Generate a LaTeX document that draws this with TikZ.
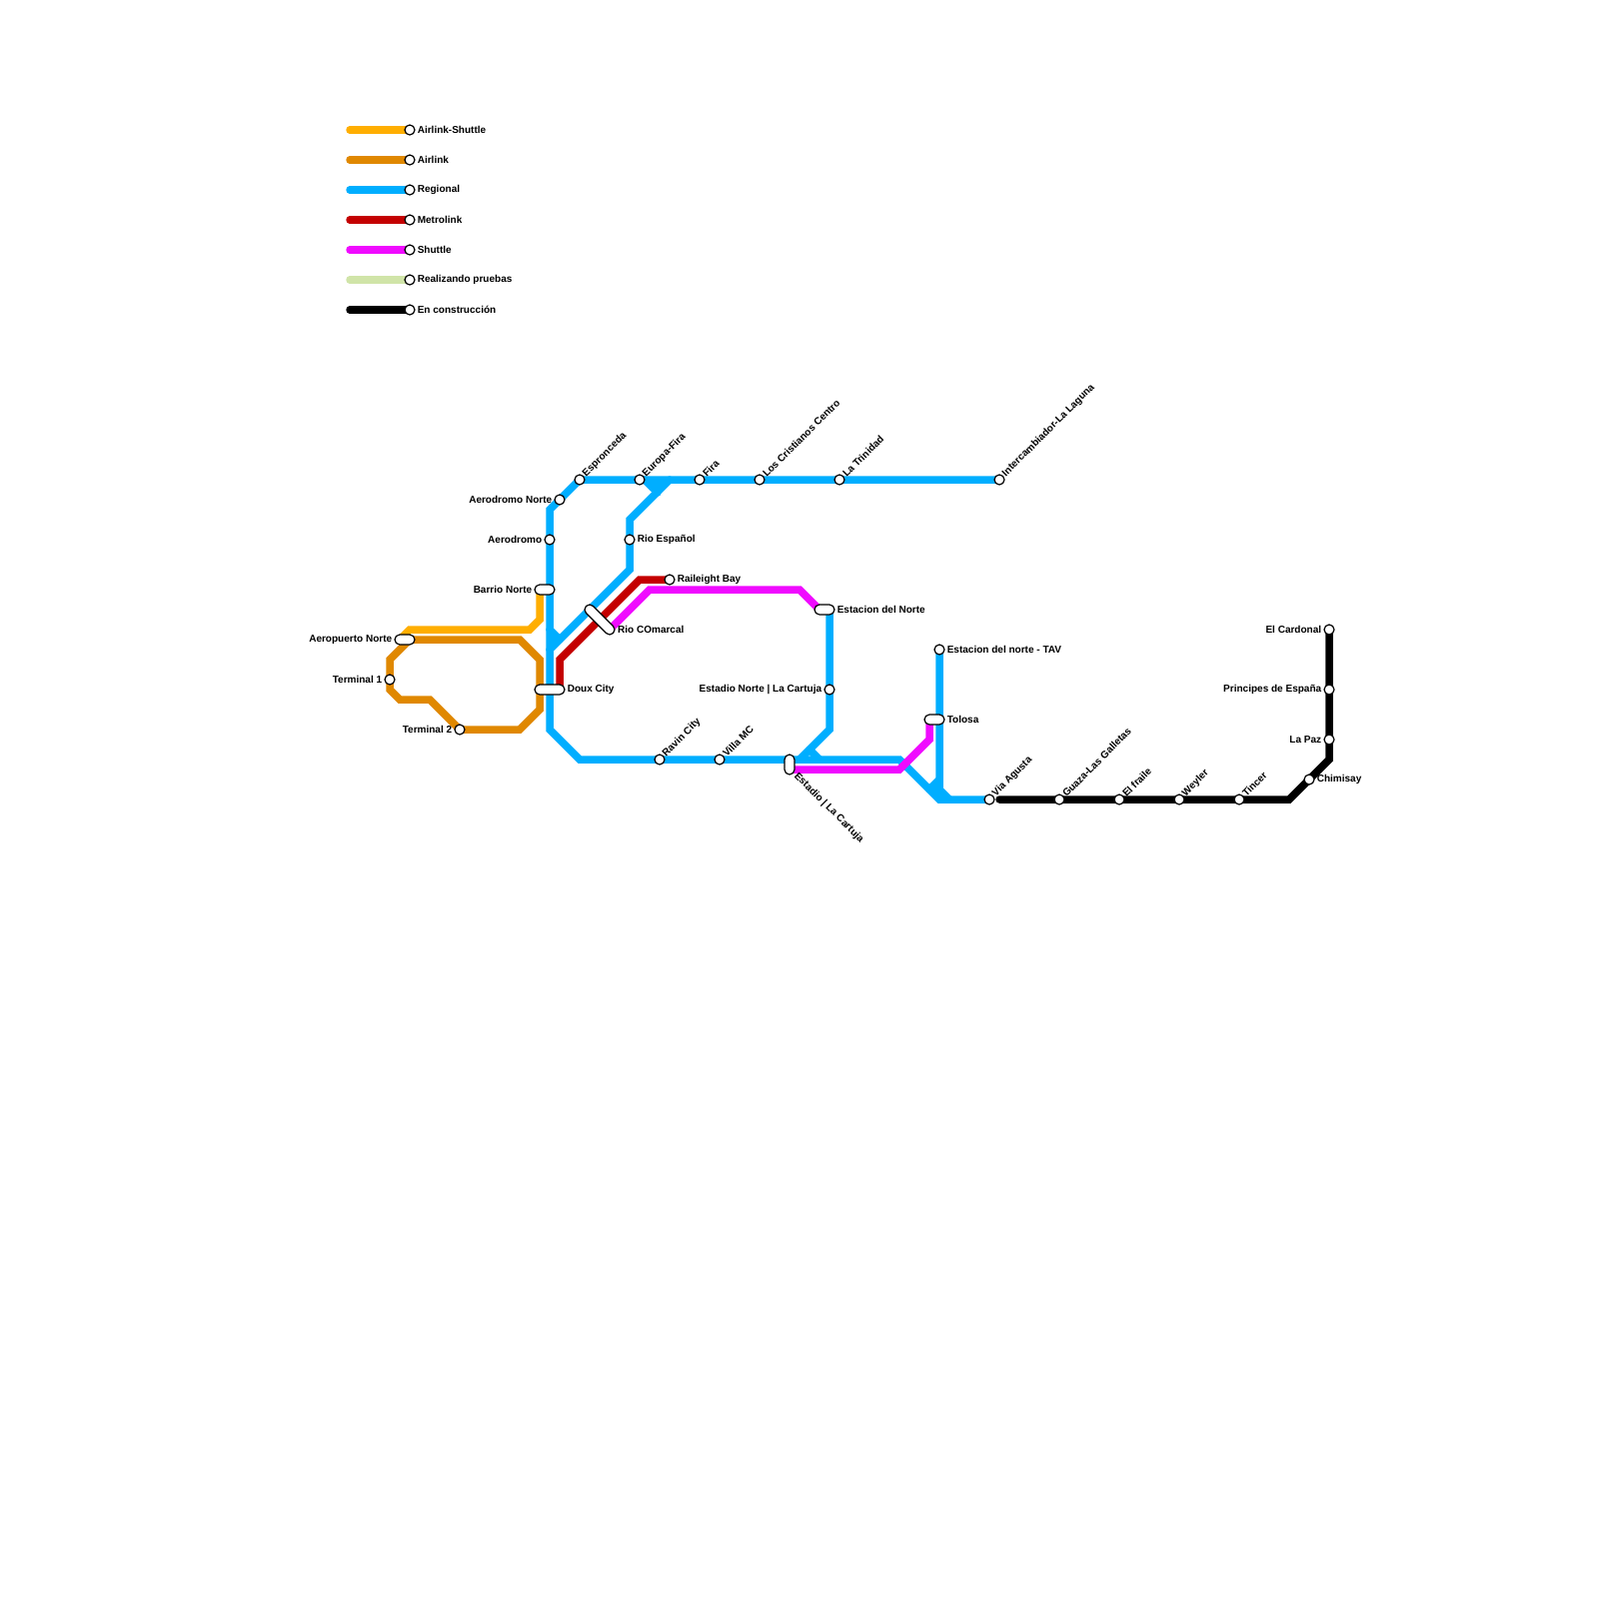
\documentclass[tikz,border=0pt]{standalone}
\usepackage{fontspec}
\setmainfont{Liberation Sans}
\usepackage{tikz}
\usetikzlibrary{positioning,backgrounds}
\definecolor{AirShuttle}{RGB}{255,174,0}
\definecolor{Airlink}{RGB}{224,136,0}
\definecolor{Regional}{RGB}{0,174,255}
\definecolor{Metrolink}{RGB}{196,0,0}
\definecolor{Shuttle}{RGB}{240,10,255}
\definecolor{Pruebas}{RGB}{208,228,168}
\tikzset{
  stop/.style={draw,circle,fill=white,line width=0.12mm,minimum size=1mm,inner sep=0pt},
  pill/.style={draw,fill=white,line width=0.12mm,rounded corners=0.5mm,minimum height=1mm,inner sep=0pt},
  track/.style={line width=0.75mm,line cap=round,line join=miter},
  txt/.style={font=\fontsize{2.85pt}{3.4pt}\selectfont\bfseries,inner sep=0pt,yshift=0.04mm},
  txtup/.style={txt,rotate=45,anchor=west,yshift=-0.04mm},
  txtdown/.style={txt,rotate=-45,anchor=west,yshift=-0.04mm}
}
\begin{document}
\begin{tikzpicture}[x=0.1mm,y=-0.1mm,node distance=0.15mm]
\useasboundingbox (0,0) rectangle (1600,1600);
% key
\node[stop] (k1) at (410,130) {};
\node[stop] (k2) at (410,160) {};
\node[stop] (k3) at (410,190) {};
\node[stop] (k4) at (410,220) {};
\node[stop] (k5) at (410,250) {};
\node[stop] (k6) at (410,280) {};
\node[stop] (k7) at (410,310) {};
\coordinate (k1a) at (350,130);
\coordinate (k2a) at (350,160);
\coordinate (k3a) at (350,190);
\coordinate (k4a) at (350,220);
\coordinate (k5a) at (350,250);
\coordinate (k6a) at (350,280);
\coordinate (k7a) at (350,310);
\node[txt,right=of k1] (k1t) {Airlink-Shuttle};
\node[txt,right=of k2] (k2t) {Airlink};
\node[txt,right=of k3] (k3t) {Regional};
\node[txt,right=of k4] (k4t) {Metrolink};
\node[txt,right=of k5] (k5t) {Shuttle};
\node[txt,right=of k6] (k6t) {Realizando pruebas};
\node[txt,right=of k7] (k7t) {En construcción};
% stations
\node[pill,minimum width=2mm] (aeropuerto) at (405,640) {};
\node[stop] (term1) at (390,680) {};
\node[stop] (term2) at (460,730) {};
\node[pill,minimum width=2mm] (barrio) at (545,590) {};
\node[pill,minimum width=3mm] (doux) at (550,690) {};
\node[pill,minimum width=3.83mm,rotate=-45] (rio) at (600,620) {};
\node[stop] (aeronorte) at (560,500) {};
\node[stop] (aero) at (550,540) {};
\node[stop] (espron) at (580,480) {};
\node[stop] (europa) at (640,480) {};
\node[stop] (fira) at (700,480) {};
\node[stop] (cristianos) at (760,480) {};
\node[stop] (trinidad) at (840,480) {};
\node[stop] (inter) at (1000,480) {};
\node[stop] (espanol) at (630,540) {};
\node[stop] (raileight) at (670,580) {};
\node[stop] (ravin) at (660,760) {};
\node[stop] (villa) at (720,760) {};
\node[pill,minimum width=2mm,rotate=90] (estadio) at (790,765) {};
\node[pill,minimum width=2mm] (estnorte) at (825,610) {};
\node[stop] (estadionorte) at (830,690) {};
\node[stop] (tav) at (940,650) {};
\node[pill,minimum width=2mm] (tolosa) at (935,720) {};
\node[stop] (agusta) at (990,800) {};
\node[stop] (guaza) at (1060,800) {};
\node[stop] (fraile) at (1120,800) {};
\node[stop] (weyler) at (1180,800) {};
\node[stop] (tincer) at (1240,800) {};
\node[stop] (chimisay) at (1310,780) {};
\node[stop] (lapaz) at (1330,740) {};
\node[stop] (principes) at (1330,690) {};
\node[stop] (cardonal) at (1330,630) {};
% labels
\node[txt,left=of aeropuerto] (aeropuertot) {Aeropuerto Norte};
\node[txt,left=of term1] (term1t) {Terminal 1};
\node[txt,left=of term2] (term2t) {Terminal 2};
\node[txt,left=of barrio] (barriot) {Barrio Norte};
\node[txt,right=of doux] (douxt) {Doux City};
\node[txt,right=0.35mm of rio.east,yshift=0.4mm] (riot) {Rio COmarcal};
\node[txt,left=of aeronorte] (aeronortet) {Aerodromo Norte};
\node[txt,left=of aero] (aerot) {Aerodromo};
\node[txt,right=of espanol] (espanolt) {Rio Español};
\node[txt,right=of raileight] (raileightt) {Raileight Bay};
\node[txt,right=of estnorte] (estnortet) {Estacion del Norte};
\node[txt,left=of estadionorte] (estadionortet) {Estadio Norte | La Cartuja};
\node[txt,right=of tav] (tavt) {Estacion del norte - TAV};
\node[txt,right=of tolosa] (tolosat) {Tolosa};
\node[txt,right=of chimisay] (chimisayt) {Chimisay};
\node[txt,left=of lapaz] (lapazt) {La Paz};
\node[txt,left=of principes] (principest) {Principes de España};
\node[txt,left=of cardonal] (cardonalt) {El Cardonal};
\node[txtup] (espront) at (espron.north east) {Espronceda};
\node[txtup] (europat) at (europa.north east) {Europa-Fira};
\node[txtup] (firat) at (fira.north east) {Fira};
\node[txtup] (cristianost) at (cristianos.north east) {Los Cristianos Centro};
\node[txtup] (trinidadt) at (trinidad.north east) {La Trinidad};
\node[txtup] (intert) at (inter.north east) {Intercambiador-La Laguna};
\node[txtup] (ravint) at (ravin.north east) {Ravin City};
\node[txtup] (villat) at (villa.north east) {Villa MC};
\node[txtup] (agustat) at (agusta.north east) {Via Agusta};
\node[txtup] (guazat) at (guaza.north east) {Guaza-Las Galletas};
\node[txtup] (frailet) at (fraile.north east) {El fraile};
\node[txtup] (weylert) at (weyler.north east) {Weyler};
\node[txtup] (tincert) at (tincer.north east) {Tincer};
\node[txtdown] (estadiot) at (796,775) {Estadio | La Cartuja};
% bends
\coordinate (a1) at (540,590);
\coordinate (a2) at (540,620);
\coordinate (a3) at (530,630);
\coordinate (a4) at (410,630);
\coordinate (a5) at (400,640);
\coordinate (b0) at (410,640);
\coordinate (b1) at (520,640);
\coordinate (b2) at (540,660);
\coordinate (b3) at (540,710);
\coordinate (b4) at (520,730);
\coordinate (b5) at (430,700);
\coordinate (b6) at (400,700);
\coordinate (b7) at (390,690);
\coordinate (b8) at (390,660);
\coordinate (r0) at (830,610);
\coordinate (r1) at (550,510);
\coordinate (r2) at (550,730);
\coordinate (r3) at (580,760);
\coordinate (r4) at (900,760);
\coordinate (r5) at (940,800);
\coordinate (r6) at (630,520);
\coordinate (r7) at (670,480);
\coordinate (r8) at (630,570);
\coordinate (r9) at (550,650);
\coordinate (r10) at (830,730);
\coordinate (r11) at (800,760);
\coordinate (r12) at (940,790);
\coordinate (r13) at (950,800);
\coordinate (s1) at (645,480);
\coordinate (s2) at (658,493);
\coordinate (s3) at (550,630);
\coordinate (s4) at (560,640);
\coordinate (s5) at (810,750);
\coordinate (s6) at (820,760);
\coordinate (s7) at (940,780);
\coordinate (s8) at (930,790);
\coordinate (m1) at (640,580);
\coordinate (m2) at (560,660);
\coordinate (m3) at (560,690);
\coordinate (h1) at (610,630);
\coordinate (h2) at (650,590);
\coordinate (h3) at (800,590);
\coordinate (h4) at (820,610);
\coordinate (h5) at (790,770);
\coordinate (h6) at (900,770);
\coordinate (h7) at (930,740);
\coordinate (h8) at (930,720);
\coordinate (c1) at (1000,800);
\coordinate (c2) at (1290,800);
\coordinate (c3) at (1330,760);
\begin{scope}[on background layer]
\draw[track,AirShuttle](k1a)--(k1.center);
\draw[track,Airlink](k2a)--(k2.center);
\draw[track,Regional](k3a)--(k3.center);
\draw[track,Metrolink](k4a)--(k4.center);
\draw[track,Shuttle](k5a)--(k5.center);
\draw[track,Pruebas](k6a)--(k6.center);
\draw[track,black](k7a)--(k7.center);
\draw[track,Regional](doux.center)--(r2)--(r3)--(r4)--(r5)--(agusta.center);
\draw[track,Regional](doux.center)--(aero.center)--(r1)--(espron.center)--(inter.center);
\draw[track,Regional](espanol.center)--(r6)--(r7);
\draw[track,Regional](espanol.center)--(r8)--(r9);
\draw[track,Regional](r0)--(r10)--(r11);
\draw[track,Regional](tav.center)--(r12)--(r13);
\draw[track,Regional](s1)--(s2);
\draw[track,Regional](s3)--(s4);
\draw[track,Regional](s5)--(s6);
\draw[track,Regional](s7)--(s8);
\fill[Regional](s1)--(r7)--(s2)--cycle;
\fill[Regional](s3)--(s4)--(r9)--cycle;
\fill[Regional](s7)--(s8)--(r5)--cycle;
\draw[track,AirShuttle](a1)--(a2)--(a3)--(a4)--(a5);
\draw[track,Airlink](b0)--(b1)--(b2)--(b3)--(b4)--(term2.center)--(b5)--(b6)--(b7)--(b8)--(b0);
\draw[track,Metrolink](raileight.center)--(m1)--(m2)--(m3);
\draw[track,Shuttle](h1)--(h2)--(h3)--(h4);
\draw[track,Shuttle](h5)--(h6)--(h7)--(h8);
\draw[track,black](c1)--(c2)--(c3)--(cardonal.center);
\end{scope}
\end{tikzpicture}
\end{document}
